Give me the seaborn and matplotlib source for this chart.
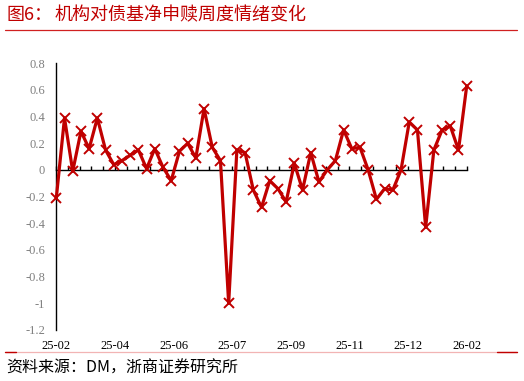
import numpy as np
import pandas as pd
import matplotlib
matplotlib.use("Agg")
import matplotlib.pyplot as plt
from matplotlib.lines import Line2D
import seaborn as sns

# ---- data ----
values = [-0.21, 0.39, -0.01, 0.29, 0.16, 0.39, 0.15, 0.04, 0.07, 0.11,
          0.15, 0.01, 0.16, 0.02, -0.08, 0.14, 0.20, 0.09, 0.46, 0.17,
          0.07, -1.00, 0.15, 0.13, -0.15, -0.28, -0.08, -0.14, -0.24, 0.05,
          -0.15, 0.13, -0.09, 0.00, 0.07, 0.30, 0.16, 0.17, 0.00, -0.22,
          -0.14, -0.15, 0.00, 0.36, 0.30, -0.43, 0.15, 0.30, 0.33, 0.15,
          0.63]
week_index = list(range(len(values)))
x_labels = ['25-02', '25-04', '25-06', '25-07', '25-09', '25-11', '25-12', '26-02']
y_ticks = [0.8, 0.6, 0.4, 0.2, 0, -0.2, -0.4, -0.6, -0.8, -1, -1.2]
y_tick_labels = ['0.8', '0.6', '0.4', '0.2', '0', '-0.2', '-0.4', '-0.6', '-0.8', '-1', '-1.2']

title_prefix = "图6："
title_text = "机构对债基净申赎周度情绪变化"
source_text = "资料来源：DM，浙商证券研究所"

df = pd.DataFrame({"week": week_index, "value": values})

sns.set_theme(style="white")
plt.rcParams['font.family'] = ['Noto Sans CJK SC', 'DejaVu Sans']

W, H = 524, 381
fig = plt.figure(figsize=(W / 100, H / 100), dpi=100)
ax = fig.add_axes([56.3 / W, 1 - 330 / H, 410.4 / W, 266.7 / H])

RED = '#C00000'
sns.lineplot(data=df, x="week", y="value", ax=ax, color=RED, linewidth=2.3,
             marker='x', markersize=7, markeredgewidth=1.4,
             markeredgecolor=RED, zorder=5)
for ln in ax.lines:
    ln.set_clip_on(False)

n = len(values) - 1
ax.set_xlim(0, n)
ax.set_ylim(-1.2, 0.8)

# spines
for s in ['top', 'right']:
    ax.spines[s].set_visible(False)
ax.spines['left'].set_color('black')
ax.spines['left'].set_linewidth(1.0)
ax.spines['bottom'].set_position(('data', 0))
ax.spines['bottom'].set_color('black')
ax.spines['bottom'].set_linewidth(1.0)
ax.spines['bottom'].set_zorder(3)

# zero-line tick marks
ax.set_xticks(np.linspace(0, n, 36))
ax.set_xticklabels([])
ax.tick_params(axis='x', direction='in', length=3, width=1.0, color='black', bottom=True)

# y axis
ax.set_yticks(y_ticks)
ax.set_yticklabels(y_tick_labels, family='Liberation Serif', fontsize=9, color='#7f7f7f')
ax.tick_params(axis='y', length=0, pad=8)
ax.set_xlabel('')
ax.set_ylabel('')
ax.grid(False)

# bottom category labels
sec = ax.secondary_xaxis('bottom')
sec.set_xticks(np.linspace(0, n, len(x_labels)))
sec.set_xticklabels(x_labels, family='Liberation Serif', fontsize=9, color='black')
sec.tick_params(length=0, pad=7)
sec.spines['bottom'].set_visible(False)

# title
fig.text(6 / W, 1 - 15 / H, title_prefix, color=RED, fontsize=13, va='center', ha='left')
fig.text(55 / W, 1 - 15 / H, title_text, color=RED, fontsize=13, va='center', ha='left')
fig.add_artist(Line2D([5 / W, 517 / W], [1 - 30 / H, 1 - 30 / H], color='#D02020', linewidth=0.9))

# bottom line
fig.add_artist(Line2D([5 / W, 517 / W], [1 - 352 / H, 1 - 352 / H], color='#F2B4B4', linewidth=0.9))
fig.add_artist(Line2D([5 / W, 16 / W], [1 - 352 / H, 1 - 352 / H], color='#C00000', linewidth=1.0))
fig.add_artist(Line2D([497 / W, 517 / W], [1 - 352 / H, 1 - 352 / H], color='#C00000', linewidth=1.0))

# source
fig.text(6 / W, 1 - 368 / H, source_text, color='black', fontsize=11.5, va='center', ha='left')

fig.savefig('out.png', dpi=100)
